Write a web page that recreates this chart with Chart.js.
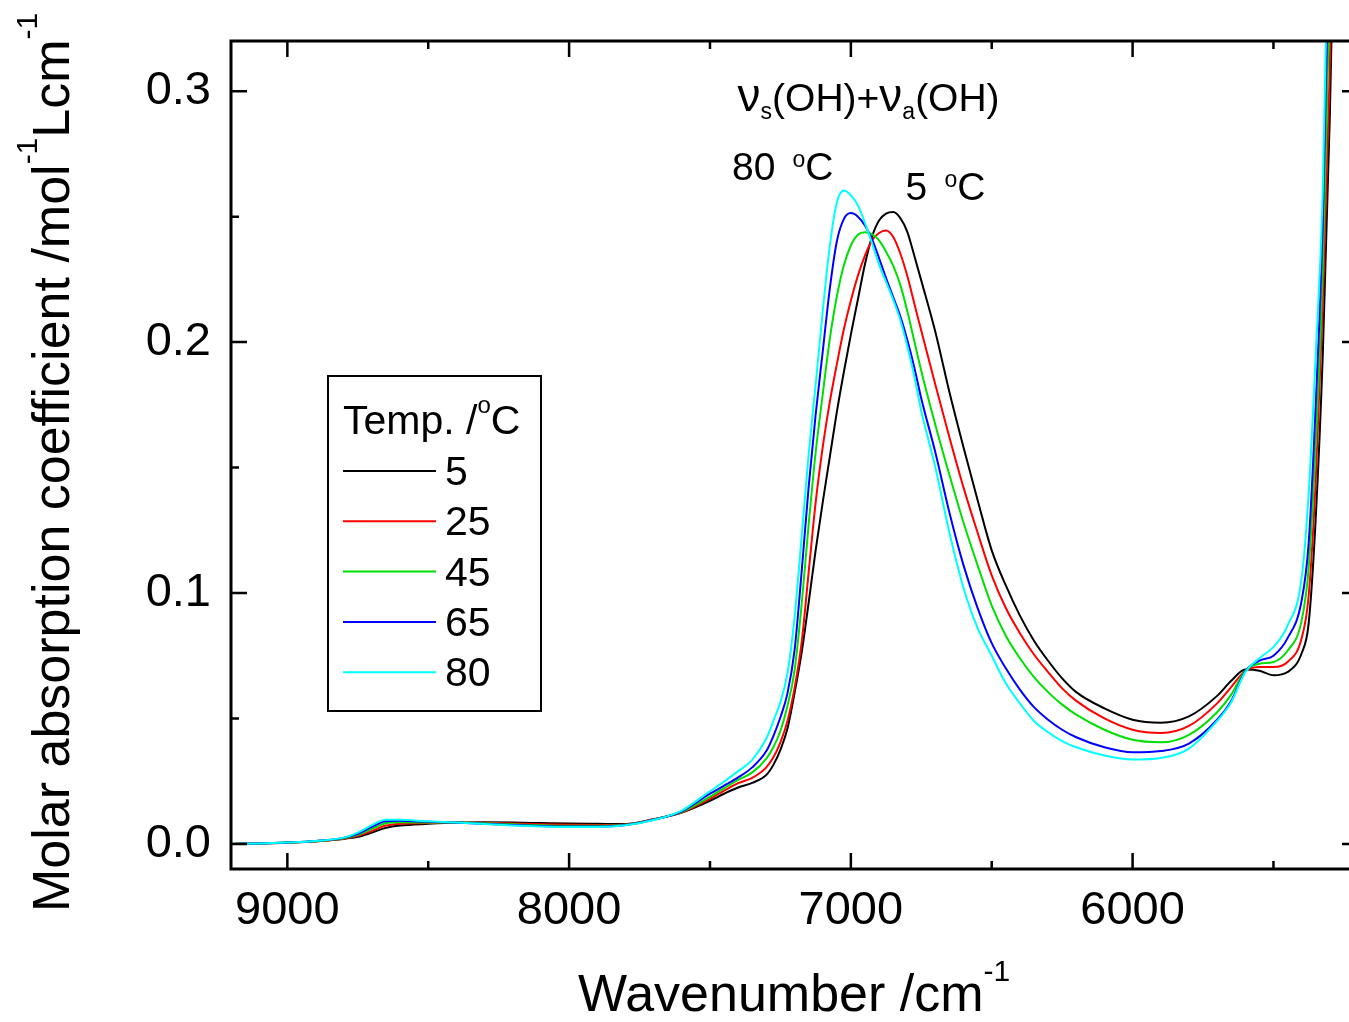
<!DOCTYPE html>
<html>
<head>
<meta charset="utf-8">
<script src="https://cdn.jsdelivr.net/npm/chart.js@4.4.0/dist/chart.umd.min.js"></script>
<style>
  html, body { margin: 0; padding: 0; background: #fff; overflow: hidden; }
  #wrap { width: 1360px; height: 1022px; }
</style>
</head>
<body>
<div id="wrap"><canvas id="canvas-1" width="1360" height="1022"></canvas></div>
<script>
// wavenumber grid /cm-1
var wavenumbers = [9200, 9100, 9000, 8900, 8800, 8750, 8700, 8650, 8600, 8500,
    8400, 8300, 8200, 8100, 8000, 7900, 7800, 7700, 7600, 7500,
    7450, 7400, 7350, 7300, 7275, 7250, 7225, 7200, 7175, 7150,
    7125, 7100, 7075, 7050, 7025, 7000, 6975, 6950, 6925, 6900,
    6875, 6850, 6825, 6800, 6775, 6750, 6700, 6650, 6600, 6550,
    6500, 6450, 6400, 6350, 6300, 6250, 6200, 6100, 6000, 5900,
    5800, 5700, 5650, 5600, 5550, 5500, 5450, 5400, 5375, 5350,
    5325, 5300, 5275, 5250];

var abs5 = [0.0000, 0.0002, 0.0005, 0.0010, 0.0020, 0.0028, 0.0045, 0.0064, 0.0073, 0.0080,
    0.0085, 0.0086, 0.0085, 0.0083, 0.0081, 0.0080, 0.0079, 0.0098, 0.0125, 0.0172,
    0.0200, 0.0225, 0.0243, 0.0275, 0.0315, 0.0375, 0.0460, 0.0600, 0.0760, 0.0960,
    0.1170, 0.1360, 0.1540, 0.1720, 0.1880, 0.2030, 0.2170, 0.2310, 0.2420, 0.2485,
    0.2512, 0.2518, 0.2495, 0.2440, 0.2345, 0.2245, 0.2040, 0.1800, 0.1580, 0.1370,
    0.1170, 0.1030, 0.0910, 0.0810, 0.0730, 0.0660, 0.0605, 0.0540, 0.0495, 0.0483,
    0.0508, 0.0590, 0.0650, 0.0695, 0.0690, 0.0672, 0.0685, 0.0760, 0.0880, 0.1300,
    0.1950, 0.2900, 0.4200, 0.6000];

var abs25 = [0.0000, 0.0002, 0.0005, 0.0011, 0.0021, 0.0032, 0.0052, 0.0073, 0.0080, 0.0083,
    0.0085, 0.0084, 0.0081, 0.0078, 0.0076, 0.0075, 0.0077, 0.0098, 0.0126, 0.0180,
    0.0212, 0.0242, 0.0263, 0.0305, 0.0345, 0.0405, 0.0490, 0.0620, 0.0800, 0.1080,
    0.1360, 0.1580, 0.1760, 0.1910, 0.2050, 0.2165, 0.2265, 0.2345, 0.2405, 0.2435,
    0.2445, 0.2420, 0.2355, 0.2265, 0.2155, 0.2045, 0.1830, 0.1620, 0.1420, 0.1240,
    0.1070, 0.0940, 0.0840, 0.0755, 0.0685, 0.0620, 0.0570, 0.0500, 0.0455, 0.0442,
    0.0470, 0.0560, 0.0625, 0.0690, 0.0705, 0.0705, 0.0725, 0.0820, 0.0990, 0.1450,
    0.2150, 0.3100, 0.4500, 0.6200];

var abs45 = [0.0000, 0.0002, 0.0006, 0.0011, 0.0022, 0.0036, 0.0060, 0.0082, 0.0086, 0.0085,
    0.0085, 0.0082, 0.0078, 0.0074, 0.0072, 0.0072, 0.0076, 0.0097, 0.0128, 0.0188,
    0.0222, 0.0255, 0.0285, 0.0340, 0.0385, 0.0450, 0.0550, 0.0690, 0.0950, 0.1270,
    0.1560, 0.1790, 0.2010, 0.2180, 0.2305, 0.2385, 0.2428, 0.2438, 0.2430, 0.2405,
    0.2360, 0.2305, 0.2230, 0.2125, 0.2005, 0.1885, 0.1670, 0.1470, 0.1280, 0.1110,
    0.0950, 0.0830, 0.0740, 0.0665, 0.0605, 0.0555, 0.0515, 0.0455, 0.0415, 0.0405,
    0.0435, 0.0525, 0.0595, 0.0690, 0.0718, 0.0725, 0.0770, 0.0890, 0.1100, 0.1600,
    0.2300, 0.3400, 0.4800, 0.6500];

var abs65 = [0.0000, 0.0002, 0.0006, 0.0012, 0.0024, 0.0040, 0.0068, 0.0090, 0.0092, 0.0088,
    0.0085, 0.0080, 0.0075, 0.0071, 0.0069, 0.0069, 0.0075, 0.0096, 0.0130, 0.0200,
    0.0232, 0.0265, 0.0305, 0.0370, 0.0430, 0.0505, 0.0600, 0.0770, 0.1080, 0.1420,
    0.1710, 0.1960, 0.2210, 0.2400, 0.2490, 0.2514, 0.2500, 0.2465, 0.2410, 0.2335,
    0.2255, 0.2180, 0.2105, 0.2010, 0.1900, 0.1775, 0.1560, 0.1320, 0.1110, 0.0940,
    0.0800, 0.0700, 0.0615, 0.0545, 0.0495, 0.0455, 0.0425, 0.0385, 0.0365, 0.0370,
    0.0400, 0.0495, 0.0570, 0.0688, 0.0730, 0.0750, 0.0820, 0.0970, 0.1200, 0.1750,
    0.2480, 0.3700, 0.5200, 0.7000];

var abs80 = [0.0000, 0.0002, 0.0006, 0.0012, 0.0025, 0.0045, 0.0075, 0.0096, 0.0096, 0.0090,
    0.0085, 0.0079, 0.0073, 0.0069, 0.0067, 0.0067, 0.0074, 0.0095, 0.0133, 0.0210,
    0.0248, 0.0290, 0.0335, 0.0420, 0.0490, 0.0565, 0.0680, 0.0900, 0.1220, 0.1550,
    0.1830, 0.2120, 0.2380, 0.2555, 0.2604, 0.2585, 0.2545, 0.2475, 0.2395, 0.2310,
    0.2240, 0.2170, 0.2090, 0.1985, 0.1865, 0.1725, 0.1500, 0.1240, 0.1020, 0.0860,
    0.0750, 0.0640, 0.0560, 0.0490, 0.0445, 0.0410, 0.0385, 0.0352, 0.0336, 0.0342,
    0.0380, 0.0490, 0.0565, 0.0685, 0.0740, 0.0785, 0.0870, 0.1060, 0.1400, 0.1950,
    0.2600, 0.4000, 0.5600, 0.8000];

var temps = ['5', '25', '45', '65', '80'];
var series = [abs5, abs25, abs45, abs65, abs80];
var colors = ['#000000', '#ff0000', '#00e000', '#0000ff', '#00ffff'];

var xMajor = [9000, 8000, 7000, 6000];
var xMinor = [8500, 7500, 6500, 5500];
var yMajor = [0.0, 0.1, 0.2, 0.3];
var yMinor = [0.05, 0.15, 0.25];

var FONT = '"Liberation Sans", Arial, sans-serif';
Chart.defaults.font.family = FONT;
Chart.defaults.color = '#000';

// draws text runs: [text, size, dy]
function drawRich(ctx, x, y, parts) {
    parts.forEach(function (p) {
        ctx.font = p[1] + 'px ' + FONT;
        ctx.fillText(p[0], x, y + (p[2] || 0));
        x += ctx.measureText(p[0]).width;
    });
    return x;
}

function richWidth(ctx, parts) {
    var w = 0;
    parts.forEach(function (p) {
        ctx.font = p[1] + 'px ' + FONT;
        w += ctx.measureText(p[0]).width;
    });
    return w;
}

var framePlugin = {
    id: 'frame',
    afterDraw: function (chart) {
        var ctx = chart.ctx;
        var a = chart.chartArea;
        var xs = chart.scales.x;
        var ys = chart.scales.y;
        ctx.save();
        ctx.strokeStyle = '#000';
        ctx.fillStyle = '#000';

        // ticks, inward on all four sides
        ctx.lineWidth = 2.5;
        ctx.beginPath();
        xMajor.concat(xMinor).forEach(function (v) {
            var len = xMajor.indexOf(v) >= 0 ? 16 : 8;
            var px = xs.getPixelForValue(v);
            ctx.moveTo(px, a.bottom); ctx.lineTo(px, a.bottom - len);
            ctx.moveTo(px, a.top); ctx.lineTo(px, a.top + len);
        });
        yMajor.concat(yMinor).forEach(function (v) {
            var len = yMajor.indexOf(v) >= 0 ? 16 : 8;
            var py = ys.getPixelForValue(v);
            ctx.moveTo(a.left, py); ctx.lineTo(a.left + len, py);
            ctx.moveTo(a.right, py); ctx.lineTo(a.right - len, py);
        });
        ctx.stroke();

        ctx.lineWidth = 3;
        ctx.strokeRect(a.left, a.top, a.right - a.left, a.bottom - a.top);

        // axis titles
        ctx.textAlign = 'left';
        ctx.textBaseline = 'alphabetic';
        var xt = [['Wavenumber /cm', 52], ['-1', 30, -30]];
        drawRich(ctx, 578, 1011, xt);

        var yt = [['Molar absorption coefficient /mol', 52], ['-1', 30, -32], ['Lcm', 52], ['-1', 30, -32]];
        ctx.save();
        ctx.translate(69, 912);
        ctx.rotate(-Math.PI / 2);
        drawRich(ctx, 0, 0, yt);
        ctx.restore();

        // band label and temperature labels
        drawRich(ctx, xs.getPixelForValue(7402), ys.getPixelForValue(0.2923),
            [['\u03bd', 46], ['s', 23, 8], ['(OH)+', 39], ['\u03bd', 46], ['a', 23, 8], ['(OH)', 39]]);
        drawRich(ctx, xs.getPixelForValue(7422), ys.getPixelForValue(0.2648),
            [['80 ', 39], [' o', 23, -13], ['C', 39]]);
        drawRich(ctx, xs.getPixelForValue(6806), ys.getPixelForValue(0.2565),
            [['5 ', 39], [' o', 23, -13], ['C', 39]]);

        // legend
        var lx = 328, ly = 376;
        ctx.lineWidth = 2;
        ctx.strokeRect(lx, ly, 213, 335);
        drawRich(ctx, lx + 15, ly + 58, [['Temp. /', 41], ['o', 24, -21], ['C', 41]]);
        chart.data.datasets.forEach(function (ds, i) {
            var yy = ly + 95 + i * 50.3;
            ctx.strokeStyle = ds.borderColor;
            ctx.lineWidth = 2;
            ctx.beginPath();
            ctx.moveTo(lx + 15, yy);
            ctx.lineTo(lx + 108, yy);
            ctx.stroke();
            ctx.font = '41px ' + FONT;
            ctx.fillText(ds.label, lx + 117, yy + 14);
        });
        ctx.restore();
    }
};

var lineChart = new Chart(document.getElementById('canvas-1'), {
    type: 'line',
    data: {
        datasets: series.map(function (arr, i) {
            return {
                label: temps[i],
                data: wavenumbers.map(function (w, j) { return { x: w, y: arr[j] }; }),
                borderColor: colors[i],
                borderWidth: 2,
                pointRadius: 0,
                cubicInterpolationMode: 'monotone',
                fill: false,
                clip: 0,
                order: 4 - i
            };
        })
    },
    options: {
        responsive: false,
        animation: false,
        layout: { padding: { left: 0, top: 41, right: 2, bottom: 0 } },
        plugins: {
            legend: { display: false },
            tooltip: { enabled: false }
        },
        scales: {
            x: {
                type: 'linear',
                reverse: true,
                min: 5200,
                max: 9200,
                grid: { display: false, drawTicks: false },
                border: { display: false },
                afterBuildTicks: function (s) { s.ticks = xMajor.map(function (v) { return { value: v }; }); },
                afterFit: function (s) { s.height = 153; s.paddingLeft = 0; s.paddingRight = 0; },
                ticks: {
                    padding: 14,
                    maxRotation: 0,
                    font: { size: 47 },
                    color: '#000',
                    callback: function (v) { return String(v); }
                }
            },
            y: {
                min: -0.01,
                max: 0.32,
                grid: { display: false, drawTicks: false },
                border: { display: false },
                afterBuildTicks: function (s) { s.ticks = yMajor.map(function (v) { return { value: v }; }); },
                afterFit: function (s) { s.width = 231; s.paddingTop = 0; s.paddingBottom = 0; },
                ticks: {
                    padding: 20,
                    font: { size: 47 },
                    color: '#000',
                    callback: function (v) { return v.toFixed(1); }
                }
            }
        }
    },
    plugins: [framePlugin]
});
</script>
</body>
</html>
